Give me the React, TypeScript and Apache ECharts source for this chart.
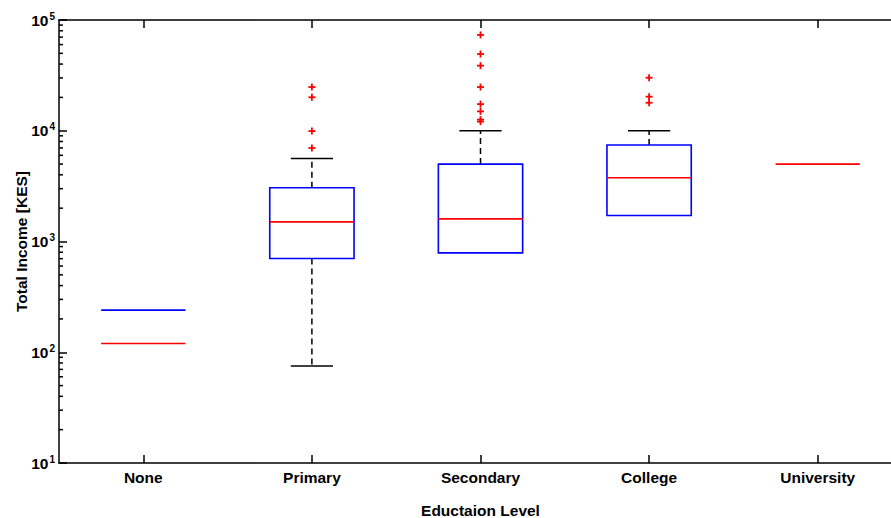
import React, { useEffect, useRef } from "react";
import * as echarts from "echarts";

const categories = ["None", "Primary", "Secondary", "College", "University"];
const q1Values: (number | null)[] = [null, 702, 789, 1718, null];
const medianValues: number[] = [120, 1503, 1600, 3758, 5000];
const q3Values: (number | null)[] = [240, 3055, 5000, 7430, null];
const lowerWhisker: (number | null)[] = [null, 75, null, null, null];
const upperWhisker: (number | null)[] = [null, 5620, 10000, 10000, null];
const outliers: [number, number][] = [
  [1, 24800], [1, 20050], [1, 9930], [1, 6980],
  [2, 73300], [2, 49300], [2, 38700], [2, 24800], [2, 17400], [2, 14960], [2, 12600], [2, 12100],
  [3, 30100], [3, 20300], [3, 17900],
];
const yMin = 10;
const yMax = 100000;
const minorMultipliers = [2, 3, 4, 5, 6, 7, 8, 9];
const decades = [10, 100, 1000, 10000];

const FONT = "'Liberation Sans', Arial, sans-serif";

export default function App() {
  const ref = useRef<HTMLDivElement>(null);
  useEffect(() => {
    document.body.style.margin = "0";
    const chart = echarts.init(ref.current!, null, { renderer: "svg" });
    const minorTicks: number[][] = [];
    decades.forEach((d) => minorMultipliers.forEach((m) => minorTicks.push([0, d * m])));

    const option: any = {
      animation: false,
      backgroundColor: "#ffffff",
      textStyle: { fontFamily: FONT },
      grid: { left: 59, top: 20, right: -11, bottom: 55, containLabel: false, outerBoundsMode: "none" },
      xAxis: [
        {
          type: "category",
          data: categories,
          position: "bottom",
          axisLine: { show: true, lineStyle: { color: "#000", width: 1.5 } },
          axisTick: { show: true, inside: true, alignWithLabel: true, length: 8, interval: 0, lineStyle: { color: "#000", width: 1.5 } },
          axisLabel: { show: true, interval: 0, margin: 6, color: "#000", fontSize: 15.5, fontWeight: "bold", fontFamily: FONT },
          splitLine: { show: false },
          name: "Eductaion Level",
          nameLocation: "middle",
          nameGap: 39,
          nameMoveOverlap: false,
          nameTextStyle: { color: "#000", fontSize: 15.5, fontWeight: "bold", fontFamily: FONT },
        },
        {
          type: "category",
          data: categories,
          position: "top",
          axisLine: { show: true, lineStyle: { color: "#000", width: 1.5 } },
          axisTick: { show: true, inside: true, alignWithLabel: true, length: 8, interval: 0, lineStyle: { color: "#000", width: 1.5 } },
          axisLabel: { show: false },
          splitLine: { show: false },
        },
      ],
      yAxis: {
        type: "log",
        logBase: 10,
        min: yMin,
        max: yMax,
        axisLine: { show: true, lineStyle: { color: "#000", width: 1.5 } },
        axisTick: { show: true, inside: true, length: 8, lineStyle: { color: "#000", width: 1.5 } },
        splitLine: { show: false },
        axisLabel: {
          margin: 4,
          formatter: (v: number) => `{b|10}{s|${Math.round(Math.log10(v))}}`,
          rich: {
            b: { fontSize: 15.5, fontWeight: "bold", color: "#000", fontFamily: FONT, lineHeight: 18 },
            s: { fontSize: 10, fontWeight: "bold", color: "#000", fontFamily: FONT, lineHeight: 10, verticalAlign: "top", padding: [0, 0, 6, 1] },
          },
        },
        name: "Total Income [KES]",
        nameLocation: "middle",
        nameGap: 30,
        nameMoveOverlap: false,
        nameTextStyle: { color: "#000", fontSize: 15.5, fontWeight: "bold", fontFamily: FONT },
      },
      series: [
        {
          type: "custom",
          name: "minorTicks",
          xAxisIndex: 0,
          data: minorTicks,
          silent: true,
          renderItem: (params: any, api: any) => {
            const cs = params.coordSys;
            const y = api.coord([0, api.value(1)])[1];
            return {
              type: "line",
              shape: { x1: cs.x, y1: y, x2: cs.x + 4, y2: y },
              style: { stroke: "#000", lineWidth: 1.5 },
            };
          },
        },
        {
          type: "custom",
          name: "boxes",
          xAxisIndex: 0,
          data: categories.map((_, i) => [i, medianValues[i]]),
          silent: true,
          renderItem: (params: any, api: any) => {
            const cs = params.coordSys;
            const band = cs.width / categories.length;
            const i = params.dataIndex;
            const cx = api.coord([i, medianValues[i]])[0];
            const half = band * 0.25;
            const capHalf = band * 0.125;
            const Y = (v: number) => api.coord([i, v])[1];
            const children: any[] = [];
            const whiskerStyle = { stroke: "#000", lineWidth: 1.5, lineDash: [6, 4] };
            const capStyle = { stroke: "#000", lineWidth: 1.5 };
            const up = upperWhisker[i];
            const q3 = q3Values[i];
            const q1 = q1Values[i];
            const lo = lowerWhisker[i];
            if (up != null) {
              const from = q3 != null ? q3 : medianValues[i];
              children.push({ type: "line", shape: { x1: cx, y1: Y(from), x2: cx, y2: Y(up) }, style: whiskerStyle });
              children.push({ type: "line", shape: { x1: cx - capHalf, y1: Y(up), x2: cx + capHalf, y2: Y(up) }, style: capStyle });
            }
            if (lo != null) {
              const from = q1 != null ? q1 : medianValues[i];
              children.push({ type: "line", shape: { x1: cx, y1: Y(from), x2: cx, y2: Y(lo) }, style: whiskerStyle });
              children.push({ type: "line", shape: { x1: cx - capHalf, y1: Y(lo), x2: cx + capHalf, y2: Y(lo) }, style: capStyle });
            }
            if (q1 != null && q3 != null) {
              children.push({
                type: "rect",
                shape: { x: cx - half, y: Y(q3), width: half * 2, height: Y(q1) - Y(q3) },
                style: { stroke: "#0000ff", fill: "none", lineWidth: 1.6 },
              });
            } else if (q3 != null) {
              children.push({ type: "line", shape: { x1: cx - half, y1: Y(q3), x2: cx + half, y2: Y(q3) }, style: { stroke: "#0000ff", lineWidth: 1.6 } });
            }
            children.push({
              type: "line",
              shape: { x1: cx - half, y1: Y(medianValues[i]), x2: cx + half, y2: Y(medianValues[i]) },
              style: { stroke: "#ff0000", lineWidth: 1.6 },
            });
            return { type: "group", children };
          },
        },
        {
          type: "custom",
          name: "outliers",
          xAxisIndex: 0,
          data: outliers,
          silent: true,
          renderItem: (params: any, api: any) => {
            const p = api.coord([api.value(0), api.value(1)]);
            const s = 3.5;
            return {
              type: "group",
              children: [
                { type: "line", shape: { x1: p[0] - s, y1: p[1], x2: p[0] + s, y2: p[1] }, style: { stroke: "#ff0000", lineWidth: 1.8 } },
                { type: "line", shape: { x1: p[0], y1: p[1] - s, x2: p[0], y2: p[1] + s }, style: { stroke: "#ff0000", lineWidth: 1.8 } },
              ],
            };
          },
        },
      ],
    };
    chart.setOption(option);
    return () => chart.dispose();
  }, []);
  return <div ref={ref} style={{ width: 891, height: 518 }} />;
}
